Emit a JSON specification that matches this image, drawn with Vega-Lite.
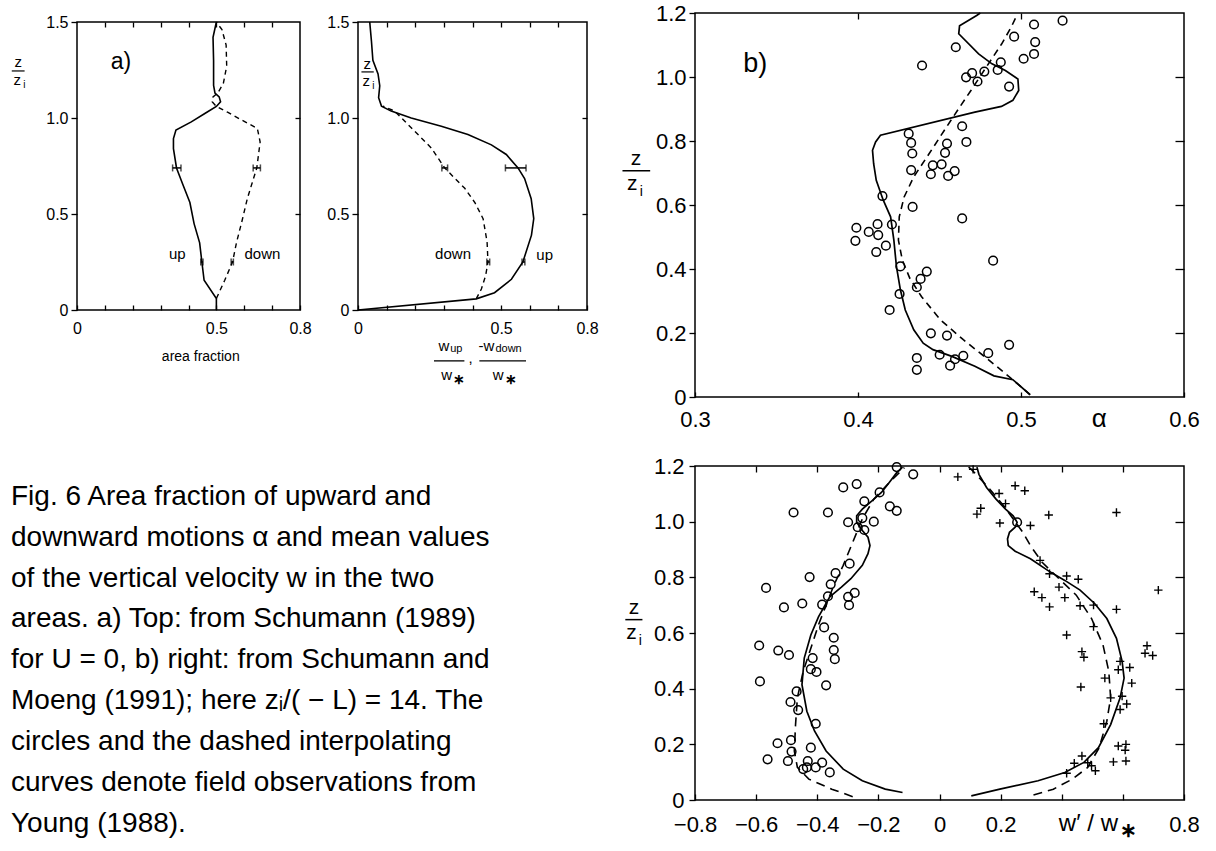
{
 "$schema": "https://vega.github.io/schema/vega-lite/v6.json",
 "background": "white",
 "padding": {"left": 10, "top": 1, "right": 5, "bottom": 5},
 "config": {
  "view": {"stroke": "black", "strokeWidth": 1.5},
  "axis": {"grid": false, "domain": false, "labelFont": "Liberation Sans", "labelColor": "black", "tickColor": "black", "tickWidth": 1.3, "labelFlush": false, "labelOverlap": false, "titleFont": "Liberation Sans", "titleFontWeight": "normal", "titleColor": "black"},
  "text": {"font": "Liberation Sans", "color": "black"},
  "line": {"color": "black", "strokeWidth": 1.6},
  "rule": {"color": "black"},
  "tick": {"color": "black"}
 },
 "datasets": {
  "one": [{}],
  "a1": [
   {"c":"up","x":0.5,"z":0},{"c":"up","x":0.5,"z":0.06},{"c":"up","x":0.456,"z":0.155},{"c":"up","x":0.448,"z":0.25},{"c":"up","x":0.44,"z":0.35},{"c":"up","x":0.42,"z":0.45},{"c":"up","x":0.405,"z":0.56},{"c":"up","x":0.379,"z":0.656},{"c":"up","x":0.357,"z":0.74},{"c":"up","x":0.346,"z":0.84},{"c":"up","x":0.346,"z":0.893},{"c":"up","x":0.355,"z":0.937},{"c":"up","x":0.41,"z":0.98},{"c":"up","x":0.46,"z":1.025},{"c":"up","x":0.5,"z":1.06},{"c":"up","x":0.515,"z":1.085},{"c":"up","x":0.51,"z":1.11},{"c":"up","x":0.495,"z":1.13},{"c":"up","x":0.49,"z":1.17},{"c":"up","x":0.49,"z":1.3},{"c":"up","x":0.488,"z":1.42},{"c":"up","x":0.5,"z":1.5},
   {"c":"down","x":0.5,"z":0.06},{"c":"down","x":0.53,"z":0.155},{"c":"down","x":0.558,"z":0.25},{"c":"down","x":0.572,"z":0.35},{"c":"down","x":0.593,"z":0.47},{"c":"down","x":0.611,"z":0.58},{"c":"down","x":0.628,"z":0.66},{"c":"down","x":0.645,"z":0.74},{"c":"down","x":0.657,"z":0.875},{"c":"down","x":0.647,"z":0.946},{"c":"down","x":0.59,"z":0.99},{"c":"down","x":0.54,"z":1.03},{"c":"down","x":0.5,"z":1.06},{"c":"down","x":0.485,"z":1.085},{"c":"down","x":0.488,"z":1.11},{"c":"down","x":0.505,"z":1.13},{"c":"down","x":0.525,"z":1.18},{"c":"down","x":0.537,"z":1.27},{"c":"down","x":0.535,"z":1.38},{"c":"down","x":0.52,"z":1.46},{"c":"down","x":0.5,"z":1.5}
  ],
  "a1err": [
   {"z":0.74,"lo":0.343,"hi":0.373},{"z":0.74,"lo":0.632,"hi":0.658},{"z":0.25,"lo":0.444,"hi":0.452},{"z":0.25,"lo":0.553,"hi":0.561}
  ],
  "a2": [
   {"c":"up","x":0,"z":0},{"c":"up","x":0.413,"z":0.058},{"c":"up","x":0.477,"z":0.09},{"c":"up","x":0.536,"z":0.16},{"c":"up","x":0.576,"z":0.25},{"c":"up","x":0.606,"z":0.39},{"c":"up","x":0.614,"z":0.476},{"c":"up","x":0.605,"z":0.58},{"c":"up","x":0.582,"z":0.685},{"c":"up","x":0.559,"z":0.74},{"c":"up","x":0.518,"z":0.81},{"c":"up","x":0.466,"z":0.86},{"c":"up","x":0.384,"z":0.914},{"c":"up","x":0.291,"z":0.957},{"c":"up","x":0.186,"z":1.0},{"c":"up","x":0.116,"z":1.036},{"c":"up","x":0.082,"z":1.062},{"c":"up","x":0.072,"z":1.106},{"c":"up","x":0.076,"z":1.168},{"c":"up","x":0.07,"z":1.23},{"c":"up","x":0.052,"z":1.3},{"c":"up","x":0.047,"z":1.4},{"c":"up","x":0.041,"z":1.5},
   {"c":"down","x":0.413,"z":0.058},{"c":"down","x":0.431,"z":0.109},{"c":"down","x":0.446,"z":0.18},{"c":"down","x":0.454,"z":0.25},{"c":"down","x":0.451,"z":0.354},{"c":"down","x":0.437,"z":0.476},{"c":"down","x":0.408,"z":0.56},{"c":"down","x":0.373,"z":0.634},{"c":"down","x":0.338,"z":0.686},{"c":"down","x":0.303,"z":0.74},{"c":"down","x":0.256,"z":0.844},{"c":"down","x":0.186,"z":0.949},{"c":"down","x":0.128,"z":1.036},{"c":"down","x":0.087,"z":1.062}
  ],
  "a2err": [
   {"z":0.74,"lo":0.293,"hi":0.313},{"z":0.74,"lo":0.515,"hi":0.587},{"z":0.25,"lo":0.45,"hi":0.46},{"z":0.25,"lo":0.573,"hi":0.583}
  ],
  "bt": [
   {"c":"les","x":0.5056,"z":0.007},{"c":"les","x":0.495,"z":0.054},{"c":"les","x":0.4834,"z":0.066},{"c":"les","x":0.4717,"z":0.096},{"c":"les","x":0.4576,"z":0.127},{"c":"les","x":0.446,"z":0.148},{"c":"les","x":0.44,"z":0.168},{"c":"les","x":0.4342,"z":0.21},{"c":"les","x":0.429,"z":0.272},{"c":"les","x":0.426,"z":0.335},{"c":"les","x":0.4236,"z":0.407},{"c":"les","x":0.422,"z":0.49},{"c":"les","x":0.42,"z":0.563},{"c":"les","x":0.4155,"z":0.615},{"c":"les","x":0.4112,"z":0.677},{"c":"les","x":0.4096,"z":0.729},{"c":"les","x":0.4089,"z":0.771},{"c":"les","x":0.4108,"z":0.797},{"c":"les","x":0.4138,"z":0.818},{"c":"les","x":0.4717,"z":0.89},{"c":"les","x":0.488,"z":0.908},{"c":"les","x":0.495,"z":0.927},{"c":"les","x":0.4986,"z":0.958},{"c":"les","x":0.4981,"z":0.994},{"c":"les","x":0.4904,"z":1.02},{"c":"les","x":0.4822,"z":1.041},{"c":"les","x":0.474,"z":1.072},{"c":"les","x":0.4618,"z":1.135},{"c":"les","x":0.4623,"z":1.16},{"c":"les","x":0.4728,"z":1.192},{"c":"les","x":0.475,"z":1.2},
   {"c":"obs","x":0.5056,"z":0.007},{"c":"obs","x":0.495,"z":0.054},{"c":"obs","x":0.4787,"z":0.122},{"c":"obs","x":0.4646,"z":0.179},{"c":"obs","x":0.4506,"z":0.241},{"c":"obs","x":0.4389,"z":0.314},{"c":"obs","x":0.4318,"z":0.371},{"c":"obs","x":0.4272,"z":0.428},{"c":"obs","x":0.4248,"z":0.49},{"c":"obs","x":0.4253,"z":0.563},{"c":"obs","x":0.4283,"z":0.625},{"c":"obs","x":0.4342,"z":0.688},{"c":"obs","x":0.4436,"z":0.76},{"c":"obs","x":0.4529,"z":0.833},{"c":"obs","x":0.4611,"z":0.896},{"c":"obs","x":0.4693,"z":0.958},{"c":"obs","x":0.4787,"z":1.031},{"c":"obs","x":0.4881,"z":1.103},{"c":"obs","x":0.4939,"z":1.155},{"c":"obs","x":0.4974,"z":1.192}
  ],
  "btobs": [
   {"x":0.5255,"z":1.176},{"x":0.508,"z":1.164},{"x":0.4958,"z":1.126},{"x":0.5087,"z":1.109},{"x":0.46,"z":1.093},{"x":0.508,"z":1.072},{"x":0.5016,"z":1.057},{"x":0.4393,"z":1.036},{"x":0.4876,"z":1.046},{"x":0.4857,"z":1.022},{"x":0.4775,"z":1.017},{"x":0.47,"z":1.012},{"x":0.4663,"z":0.999},{"x":0.4733,"z":0.986},{"x":0.4927,"z":0.97},{"x":0.4639,"z":0.846},{"x":0.4311,"z":0.823},{"x":0.4326,"z":0.794},{"x":0.4665,"z":0.797},{"x":0.4546,"z":0.792},{"x":0.4333,"z":0.761},{"x":0.4534,"z":0.763},{"x":0.4459,"z":0.724},{"x":0.4513,"z":0.727},{"x":0.4326,"z":0.709},{"x":0.4447,"z":0.696},{"x":0.4553,"z":0.691},{"x":0.4593,"z":0.706},{"x":0.415,"z":0.628},{"x":0.4335,"z":0.594},{"x":0.4639,"z":0.558},{"x":0.399,"z":0.529},{"x":0.412,"z":0.54},{"x":0.4066,"z":0.516},{"x":0.4124,"z":0.506},{"x":0.4208,"z":0.539},{"x":0.3984,"z":0.488},{"x":0.4171,"z":0.473},{"x":0.4112,"z":0.453},{"x":0.4829,"z":0.426},{"x":0.426,"z":0.408},{"x":0.4422,"z":0.392},{"x":0.4384,"z":0.369},{"x":0.4361,"z":0.343},{"x":0.4255,"z":0.322},{"x":0.4194,"z":0.272},{"x":0.4447,"z":0.199},{"x":0.4546,"z":0.192},{"x":0.4927,"z":0.163},{"x":0.4799,"z":0.137},{"x":0.4501,"z":0.132},{"x":0.4646,"z":0.129},{"x":0.4595,"z":0.118},{"x":0.4361,"z":0.122},{"x":0.4565,"z":0.098},{"x":0.4361,"z":0.085}
  ],
  "bb": [
   {"c":"lesL","x":-0.121,"z":0.027},{"c":"lesL","x":-0.1775,"z":0.039},{"c":"lesL","x":-0.2525,"z":0.069},{"c":"lesL","x":-0.315,"z":0.111},{"c":"lesL","x":-0.371,"z":0.176},{"c":"lesL","x":-0.409,"z":0.248},{"c":"lesL","x":-0.434,"z":0.319},{"c":"lesL","x":-0.45,"z":0.414},{"c":"lesL","x":-0.4425,"z":0.51},{"c":"lesL","x":-0.421,"z":0.593},{"c":"lesL","x":-0.396,"z":0.658},{"c":"lesL","x":-0.359,"z":0.73},{"c":"lesL","x":-0.321,"z":0.765},{"c":"lesL","x":-0.29,"z":0.795},{"c":"lesL","x":-0.2525,"z":0.843},{"c":"lesL","x":-0.234,"z":0.885},{"c":"lesL","x":-0.2275,"z":0.914},{"c":"lesL","x":-0.234,"z":0.944},{"c":"lesL","x":-0.2525,"z":0.968},{"c":"lesL","x":-0.271,"z":0.998},{"c":"lesL","x":-0.271,"z":1.021},{"c":"lesL","x":-0.2525,"z":1.045},{"c":"lesL","x":-0.221,"z":1.075},{"c":"lesL","x":-0.19,"z":1.105},{"c":"lesL","x":-0.165,"z":1.14},{"c":"lesL","x":-0.14,"z":1.176},{"c":"lesL","x":-0.121,"z":1.196},
   {"c":"obsL","x":-0.284,"z":0.012},{"c":"obsL","x":-0.3525,"z":0.039},{"c":"obsL","x":-0.4275,"z":0.075},{"c":"obsL","x":-0.465,"z":0.117},{"c":"obsL","x":-0.475,"z":0.176},{"c":"obsL","x":-0.471,"z":0.271},{"c":"obsL","x":-0.465,"z":0.367},{"c":"obsL","x":-0.446,"z":0.462},{"c":"obsL","x":-0.421,"z":0.545},{"c":"obsL","x":-0.396,"z":0.629},{"c":"obsL","x":-0.371,"z":0.7},{"c":"obsL","x":-0.346,"z":0.771},{"c":"obsL","x":-0.315,"z":0.843},{"c":"obsL","x":-0.284,"z":0.926},{"c":"obsL","x":-0.2525,"z":1.01},{"c":"obsL","x":-0.215,"z":1.081},{"c":"obsL","x":-0.165,"z":1.14},{"c":"obsL","x":-0.115,"z":1.194},
   {"c":"lesR","x":0.104,"z":0.015},{"c":"lesR","x":0.1975,"z":0.039},{"c":"lesR","x":0.3225,"z":0.069},{"c":"lesR","x":0.41,"z":0.099},{"c":"lesR","x":0.4725,"z":0.135},{"c":"lesR","x":0.52,"z":0.188},{"c":"lesR","x":0.56,"z":0.271},{"c":"lesR","x":0.591,"z":0.367},{"c":"lesR","x":0.604,"z":0.438},{"c":"lesR","x":0.5975,"z":0.498},{"c":"lesR","x":0.579,"z":0.581},{"c":"lesR","x":0.5475,"z":0.652},{"c":"lesR","x":0.5075,"z":0.706},{"c":"lesR","x":0.46,"z":0.754},{"c":"lesR","x":0.41,"z":0.789},{"c":"lesR","x":0.354,"z":0.825},{"c":"lesR","x":0.2975,"z":0.867},{"c":"lesR","x":0.2475,"z":0.894},{"c":"lesR","x":0.225,"z":0.914},{"c":"lesR","x":0.2225,"z":0.938},{"c":"lesR","x":0.229,"z":0.962},{"c":"lesR","x":0.2475,"z":0.98},{"c":"lesR","x":0.254,"z":0.998},{"c":"lesR","x":0.241,"z":1.021},{"c":"lesR","x":0.216,"z":1.045},{"c":"lesR","x":0.185,"z":1.081},{"c":"lesR","x":0.154,"z":1.123},{"c":"lesR","x":0.129,"z":1.17},{"c":"lesR","x":0.1225,"z":1.196},
   {"c":"obsR","x":0.3075,"z":0.018},{"c":"obsR","x":0.3725,"z":0.039},{"c":"obsR","x":0.435,"z":0.075},{"c":"obsR","x":0.485,"z":0.117},{"c":"obsR","x":0.5225,"z":0.188},{"c":"obsR","x":0.5475,"z":0.283},{"c":"obsR","x":0.56,"z":0.367},{"c":"obsR","x":0.554,"z":0.462},{"c":"obsR","x":0.535,"z":0.557},{"c":"obsR","x":0.4975,"z":0.652},{"c":"obsR","x":0.4475,"z":0.736},{"c":"obsR","x":0.391,"z":0.795},{"c":"obsR","x":0.335,"z":0.855},{"c":"obsR","x":0.2975,"z":0.914},{"c":"obsR","x":0.2725,"z":0.962},{"c":"obsR","x":0.254,"z":0.99},{"c":"obsR","x":0.21,"z":1.057},{"c":"obsR","x":0.16,"z":1.123},{"c":"obsR","x":0.104,"z":1.188},{"c":"obsR","x":0.091,"z":1.2}
  ],
  "bbobs": [
   {"k":"o","x":-0.14,"z":1.196},{"k":"o","x":-0.086,"z":1.17},{"k":"o","x":-0.315,"z":1.123},{"k":"o","x":-0.271,"z":1.135},{"k":"o","x":-0.196,"z":1.105},{"k":"o","x":-0.246,"z":1.073},{"k":"o","x":-0.1625,"z":1.055},{"k":"o","x":-0.14,"z":1.039},{"k":"o","x":-0.4775,"z":1.033},{"k":"o","x":-0.365,"z":1.033},{"k":"o","x":-0.2525,"z":1.013},{"k":"o","x":-0.299,"z":0.998},{"k":"o","x":-0.215,"z":1.0},{"k":"o","x":-0.2675,"z":0.98},{"k":"o","x":-0.246,"z":0.97},{"k":"o","x":-0.294,"z":0.849},{"k":"o","x":-0.34,"z":0.815},{"k":"o","x":-0.425,"z":0.801},{"k":"o","x":-0.356,"z":0.775},{"k":"o","x":-0.5675,"z":0.762},{"k":"o","x":-0.365,"z":0.732},{"k":"o","x":-0.2775,"z":0.744},{"k":"o","x":-0.299,"z":0.73},{"k":"o","x":-0.449,"z":0.706},{"k":"o","x":-0.384,"z":0.702},{"k":"o","x":-0.296,"z":0.7},{"k":"o","x":-0.509,"z":0.692},{"k":"o","x":-0.3775,"z":0.62},{"k":"o","x":-0.346,"z":0.583},{"k":"o","x":-0.59,"z":0.555},{"k":"o","x":-0.5275,"z":0.537},{"k":"o","x":-0.4925,"z":0.521},{"k":"o","x":-0.346,"z":0.539},{"k":"o","x":-0.3425,"z":0.506},{"k":"o","x":-0.415,"z":0.51},{"k":"o","x":-0.421,"z":0.47},{"k":"o","x":-0.4025,"z":0.46},{"k":"o","x":-0.5875,"z":0.426},{"k":"o","x":-0.371,"z":0.412},{"k":"o","x":-0.4675,"z":0.39},{"k":"o","x":-0.4875,"z":0.352},{"k":"o","x":-0.4625,"z":0.323},{"k":"o","x":-0.405,"z":0.274},{"k":"o","x":-0.53,"z":0.204},{"k":"o","x":-0.486,"z":0.215},{"k":"o","x":-0.421,"z":0.188},{"k":"o","x":-0.484,"z":0.174},{"k":"o","x":-0.5625,"z":0.146},{"k":"o","x":-0.496,"z":0.14},{"k":"o","x":-0.431,"z":0.14},{"k":"o","x":-0.384,"z":0.134},{"k":"o","x":-0.434,"z":0.117},{"k":"o","x":-0.405,"z":0.117},{"k":"o","x":-0.359,"z":0.099},{"k":"o","x":-0.446,"z":0.111},{"k":"o","x":0.254,"z":0.998},
   {"k":"+","x":0.06,"z":1.161},{"k":"+","x":0.11,"z":1.188},{"k":"+","x":0.195,"z":1.101},{"k":"+","x":0.2475,"z":1.129},{"k":"+","x":0.279,"z":1.111},{"k":"+","x":0.216,"z":1.065},{"k":"+","x":0.1225,"z":1.027},{"k":"+","x":0.135,"z":1.048},{"k":"+","x":0.1975,"z":0.995},{"k":"+","x":0.2975,"z":0.986},{"k":"+","x":0.3575,"z":1.024},{"k":"+","x":0.579,"z":1.033},{"k":"+","x":0.329,"z":0.861},{"k":"+","x":0.36,"z":0.813},{"k":"+","x":0.416,"z":0.805},{"k":"+","x":0.454,"z":0.793},{"k":"+","x":0.391,"z":0.765},{"k":"+","x":0.31,"z":0.748},{"k":"+","x":0.335,"z":0.727},{"k":"+","x":0.36,"z":0.694},{"k":"+","x":0.41,"z":0.727},{"k":"+","x":0.46,"z":0.698},{"k":"+","x":0.504,"z":0.7},{"k":"+","x":0.579,"z":0.685},{"k":"+","x":0.716,"z":0.754},{"k":"+","x":0.504,"z":0.623},{"k":"+","x":0.416,"z":0.593},{"k":"+","x":0.679,"z":0.554},{"k":"+","x":0.6725,"z":0.527},{"k":"+","x":0.6975,"z":0.519},{"k":"+","x":0.466,"z":0.533},{"k":"+","x":0.4725,"z":0.513},{"k":"+","x":0.591,"z":0.498},{"k":"+","x":0.6225,"z":0.476},{"k":"+","x":0.585,"z":0.468},{"k":"+","x":0.541,"z":0.438},{"k":"+","x":0.629,"z":0.42},{"k":"+","x":0.4625,"z":0.406},{"k":"+","x":0.56,"z":0.367},{"k":"+","x":0.5975,"z":0.373},{"k":"+","x":0.6125,"z":0.345},{"k":"+","x":0.591,"z":0.325},{"k":"+","x":0.5375,"z":0.274},{"k":"+","x":0.585,"z":0.194},{"k":"+","x":0.61,"z":0.2},{"k":"+","x":0.6075,"z":0.179},{"k":"+","x":0.569,"z":0.137},{"k":"+","x":0.61,"z":0.14},{"k":"+","x":0.441,"z":0.132},{"k":"+","x":0.485,"z":0.134},{"k":"+","x":0.51,"z":0.105},{"k":"+","x":0.416,"z":0.096},{"k":"+","x":0.4975,"z":0.123},{"k":"+","x":0.466,"z":0.158}
  ],
  "caption": [
   {"n":1,"t":"Fig. 6 Area fraction of upward and"},
   {"n":2,"t":"downward motions α and mean values"},
   {"n":3,"t":"of the vertical velocity w in the two"},
   {"n":4,"t":"areas. a) Top: from Schumann (1989)"},
   {"n":5,"t":"for U = 0, b) right: from Schumann and"},
   {"n":6,"t":"Moeng (1991); here zᵢ/( − L) = 14. The"},
   {"n":7,"t":"circles and the dashed interpolating"},
   {"n":8,"t":"curves denote field observations from"},
   {"n":9,"t":"Young (1988)."}
  ]
 },
 "spacing": 684,
 "bounds": "flush",
 "hconcat": [
  {
   "spacing": 8,
   "bounds": "flush",
   "vconcat": [
    {"width": 1, "height": 1, "view": {"stroke": null}, "data": {"values": []}, "mark": "point"},
    {
     "spacing": 58,
     "bounds": "flush",
     "hconcat": [
      {"width": 8, "height": 1, "view": {"stroke": null}, "data": {"values": []}, "mark": "point"},
      {
       "width": 223, "height": 288,
       "resolve": {"axis": {"x": "independent", "y": "independent"}},
       "layer": [
        {"data": {"name": "a1"}, "transform": [{"filter": "datum.c == 'up'"}],
         "mark": {"type": "line", "strokeWidth": 1.6},
         "encoding": {
          "x": {"field": "x", "type": "quantitative", "scale": {"domain": [0, 0.8], "nice": false, "zero": false},
                "axis": {"orient": "bottom", "values": [0, 0.1, 0.2, 0.3, 0.4, 0.5, 0.6, 0.7, 0.8], "tickSize": -5, "labelPadding": 15, "labelFontSize": 16, "labelExpr": "datum.value == 0 ? '0' : datum.value == 0.5 ? '0.5' : datum.value == 0.8 ? '0.8' : ''", "title": null}},
          "y": {"field": "z", "type": "quantitative", "scale": {"domain": [0, 1.5], "nice": false, "zero": false},
                "axis": {"orient": "left", "values": [0, 0.5, 1, 1.5], "tickSize": 6, "labelPadding": 3, "labelFontSize": 16, "labelExpr": "datum.value == 0 ? '0' : format(datum.value, '.1f')", "title": null}},
          "order": {"value": null}
         }},
        {"data": {"name": "a1"}, "transform": [{"filter": "datum.c == 'down'"}],
         "mark": {"type": "line", "strokeWidth": 1.4, "strokeDash": [5, 4]},
         "encoding": {
          "x": {"field": "x", "type": "quantitative", "axis": {"orient": "top", "values": [0.1, 0.2, 0.3, 0.4, 0.5, 0.6, 0.7], "tickSize": -5, "labels": false, "title": null}},
          "y": {"field": "z", "type": "quantitative", "axis": {"orient": "right", "values": [0.5, 1], "tickSize": -5, "labels": false, "title": null}},
          "order": {"value": null}
         }},
        {"data": {"name": "a1err"}, "mark": {"type": "rule", "strokeWidth": 1.5},
         "encoding": {"x": {"field": "lo", "type": "quantitative", "axis": null}, "x2": {"field": "hi"}, "y": {"field": "z", "type": "quantitative", "axis": null}}},
        {"data": {"name": "a1err"}, "mark": {"type": "tick", "orient": "vertical", "size": 7, "thickness": 1.5},
         "encoding": {"x": {"field": "lo", "type": "quantitative", "axis": null}, "y": {"field": "z", "type": "quantitative", "axis": null}}},
        {"data": {"name": "a1err"}, "mark": {"type": "tick", "orient": "vertical", "size": 7, "thickness": 1.5},
         "encoding": {"x": {"field": "hi", "type": "quantitative", "axis": null}, "y": {"field": "z", "type": "quantitative", "axis": null}}},
        {"data": {"name": "one"}, "mark": {"type": "text", "fontSize": 23, "align": "center", "baseline": "middle"},
         "encoding": {"x": {"datum": 0.158, "type": "quantitative", "axis": null}, "y": {"datum": 1.29, "type": "quantitative", "axis": null}, "text": {"value": "a)"}}},
        {"data": {"name": "one"}, "mark": {"type": "text", "fontSize": 15, "align": "center", "baseline": "middle"},
         "encoding": {"x": {"datum": 0.36, "type": "quantitative", "axis": null}, "y": {"datum": 0.29, "type": "quantitative", "axis": null}, "text": {"value": "up"}}},
        {"data": {"name": "one"}, "mark": {"type": "text", "fontSize": 15, "align": "center", "baseline": "middle"},
         "encoding": {"x": {"datum": 0.665, "type": "quantitative", "axis": null}, "y": {"datum": 0.29, "type": "quantitative", "axis": null}, "text": {"value": "down"}}},
        {"data": {"name": "one"}, "mark": {"type": "text", "fontSize": 14, "align": "center", "baseline": "middle"},
         "encoding": {"x": {"datum": 0.444, "type": "quantitative", "axis": null}, "y": {"datum": -0.245, "type": "quantitative", "axis": null}, "text": {"value": "area  fraction"}}},
        {"data": {"name": "one"}, "mark": {"type": "text", "fontSize": 15, "align": "center", "baseline": "middle"},
         "encoding": {"x": {"datum": -0.211, "type": "quantitative", "axis": null}, "y": {"datum": 1.29, "type": "quantitative", "axis": null}, "text": {"value": "z"}}},
        {"data": {"name": "one"}, "mark": {"type": "rule", "strokeWidth": 1.2},
         "encoding": {"x": {"datum": -0.234, "type": "quantitative", "axis": null}, "x2": {"datum": -0.188}, "y": {"datum": 1.245, "type": "quantitative", "axis": null}}},
        {"data": {"name": "one"}, "mark": {"type": "text", "fontSize": 15, "align": "center", "baseline": "middle"},
         "encoding": {"x": {"datum": -0.214, "type": "quantitative", "axis": null}, "y": {"datum": 1.2, "type": "quantitative", "axis": null}, "text": {"value": "z"}}},
        {"data": {"name": "one"}, "mark": {"type": "text", "fontSize": 10, "align": "center", "baseline": "middle", "dx": 7, "dy": 5},
         "encoding": {"x": {"datum": -0.214, "type": "quantitative", "axis": null}, "y": {"datum": 1.2, "type": "quantitative", "axis": null}, "text": {"value": "i"}}}
       ]
      },
      {
       "width": 229, "height": 288,
       "resolve": {"axis": {"x": "independent", "y": "independent"}},
       "layer": [
        {"data": {"name": "a2"}, "transform": [{"filter": "datum.c == 'up'"}],
         "mark": {"type": "line", "strokeWidth": 1.6},
         "encoding": {
          "x": {"field": "x", "type": "quantitative", "scale": {"domain": [0, 0.8], "nice": false, "zero": false},
                "axis": {"orient": "bottom", "values": [0, 0.1, 0.2, 0.3, 0.4, 0.5, 0.6, 0.7, 0.8], "tickSize": -5, "labelPadding": 15, "labelFontSize": 16, "labelExpr": "datum.value == 0 ? '0' : datum.value == 0.5 ? '0.5' : datum.value == 0.8 ? '0.8' : ''", "title": null}},
          "y": {"field": "z", "type": "quantitative", "scale": {"domain": [0, 1.5], "nice": false, "zero": false},
                "axis": {"orient": "left", "values": [0, 0.5, 1, 1.5], "tickSize": 6, "labelPadding": 3, "labelFontSize": 16, "labelExpr": "datum.value == 0 ? '0' : format(datum.value, '.1f')", "title": null}},
          "order": {"value": null}
         }},
        {"data": {"name": "a2"}, "transform": [{"filter": "datum.c == 'down'"}],
         "mark": {"type": "line", "strokeWidth": 1.4, "strokeDash": [5, 4]},
         "encoding": {
          "x": {"field": "x", "type": "quantitative", "axis": {"orient": "top", "values": [0.1, 0.2, 0.3, 0.4, 0.5, 0.6, 0.7], "tickSize": -5, "labels": false, "title": null}},
          "y": {"field": "z", "type": "quantitative", "axis": {"orient": "right", "values": [0.5, 1], "tickSize": -5, "labels": false, "title": null}},
          "order": {"value": null}
         }},
        {"data": {"name": "a2err"}, "mark": {"type": "rule", "strokeWidth": 1.5},
         "encoding": {"x": {"field": "lo", "type": "quantitative", "axis": null}, "x2": {"field": "hi"}, "y": {"field": "z", "type": "quantitative", "axis": null}}},
        {"data": {"name": "a2err"}, "mark": {"type": "tick", "orient": "vertical", "size": 7, "thickness": 1.5},
         "encoding": {"x": {"field": "lo", "type": "quantitative", "axis": null}, "y": {"field": "z", "type": "quantitative", "axis": null}}},
        {"data": {"name": "a2err"}, "mark": {"type": "tick", "orient": "vertical", "size": 7, "thickness": 1.5},
         "encoding": {"x": {"field": "hi", "type": "quantitative", "axis": null}, "y": {"field": "z", "type": "quantitative", "axis": null}}},
        {"data": {"name": "one"}, "mark": {"type": "text", "fontSize": 15, "align": "center", "baseline": "middle"},
         "encoding": {"x": {"datum": 0.332, "type": "quantitative", "axis": null}, "y": {"datum": 0.29, "type": "quantitative", "axis": null}, "text": {"value": "down"}}},
        {"data": {"name": "one"}, "mark": {"type": "text", "fontSize": 15, "align": "center", "baseline": "middle"},
         "encoding": {"x": {"datum": 0.652, "type": "quantitative", "axis": null}, "y": {"datum": 0.285, "type": "quantitative", "axis": null}, "text": {"value": "up"}}},
        {"data": {"name": "one"}, "mark": {"type": "text", "fontSize": 15, "align": "center", "baseline": "middle"},
         "encoding": {"x": {"datum": 0.032, "type": "quantitative", "axis": null}, "y": {"datum": 1.28, "type": "quantitative", "axis": null}, "text": {"value": "z"}}},
        {"data": {"name": "one"}, "mark": {"type": "rule", "strokeWidth": 1.2},
         "encoding": {"x": {"datum": 0.012, "type": "quantitative", "axis": null}, "x2": {"datum": 0.055}, "y": {"datum": 1.24, "type": "quantitative", "axis": null}}},
        {"data": {"name": "one"}, "mark": {"type": "text", "fontSize": 15, "align": "center", "baseline": "middle"},
         "encoding": {"x": {"datum": 0.029, "type": "quantitative", "axis": null}, "y": {"datum": 1.195, "type": "quantitative", "axis": null}, "text": {"value": "z"}}},
        {"data": {"name": "one"}, "mark": {"type": "text", "fontSize": 10, "align": "center", "baseline": "middle", "dx": 7, "dy": 5},
         "encoding": {"x": {"datum": 0.029, "type": "quantitative", "axis": null}, "y": {"datum": 1.195, "type": "quantitative", "axis": null}, "text": {"value": "i"}}},
        {"data": {"name": "one"}, "mark": {"type": "text", "fontSize": 15, "align": "center", "baseline": "middle"},
         "encoding": {"x": {"datum": 0.3, "type": "quantitative", "axis": null}, "y": {"datum": -0.187, "type": "quantitative", "axis": null}, "text": {"value": "w"}}},
        {"data": {"name": "one"}, "mark": {"type": "text", "fontSize": 11, "align": "left", "baseline": "middle", "dy": 3},
         "encoding": {"x": {"datum": 0.322, "type": "quantitative", "axis": null}, "y": {"datum": -0.187, "type": "quantitative", "axis": null}, "text": {"value": "up"}}},
        {"data": {"name": "one"}, "mark": {"type": "rule", "strokeWidth": 1.3},
         "encoding": {"x": {"datum": 0.2655, "type": "quantitative", "axis": null}, "x2": {"datum": 0.3717}, "y": {"datum": -0.265, "type": "quantitative", "axis": null}}},
        {"data": {"name": "one"}, "mark": {"type": "text", "fontSize": 15, "align": "center", "baseline": "middle"},
         "encoding": {"x": {"datum": 0.31, "type": "quantitative", "axis": null}, "y": {"datum": -0.34, "type": "quantitative", "axis": null}, "text": {"value": "w"}}},
        {"data": {"name": "one"}, "mark": {"type": "text", "fontSize": 14, "fontWeight": "bold", "align": "left", "baseline": "middle", "dy": 5},
         "encoding": {"x": {"datum": 0.332, "type": "quantitative", "axis": null}, "y": {"datum": -0.34, "type": "quantitative", "axis": null}, "text": {"value": "∗"}}},
        {"data": {"name": "one"}, "mark": {"type": "text", "fontSize": 15, "align": "center", "baseline": "middle"},
         "encoding": {"x": {"datum": 0.393, "type": "quantitative", "axis": null}, "y": {"datum": -0.25, "type": "quantitative", "axis": null}, "text": {"value": ","}}},
        {"data": {"name": "one"}, "mark": {"type": "text", "fontSize": 15, "align": "right", "baseline": "middle"},
         "encoding": {"x": {"datum": 0.476, "type": "quantitative", "axis": null}, "y": {"datum": -0.187, "type": "quantitative", "axis": null}, "text": {"value": "-w"}}},
        {"data": {"name": "one"}, "mark": {"type": "text", "fontSize": 11, "align": "left", "baseline": "middle", "dy": 3},
         "encoding": {"x": {"datum": 0.48, "type": "quantitative", "axis": null}, "y": {"datum": -0.187, "type": "quantitative", "axis": null}, "text": {"value": "down"}}},
        {"data": {"name": "one"}, "mark": {"type": "rule", "strokeWidth": 1.3},
         "encoding": {"x": {"datum": 0.424, "type": "quantitative", "axis": null}, "x2": {"datum": 0.587}, "y": {"datum": -0.265, "type": "quantitative", "axis": null}}},
        {"data": {"name": "one"}, "mark": {"type": "text", "fontSize": 15, "align": "center", "baseline": "middle"},
         "encoding": {"x": {"datum": 0.49, "type": "quantitative", "axis": null}, "y": {"datum": -0.34, "type": "quantitative", "axis": null}, "text": {"value": "w"}}},
        {"data": {"name": "one"}, "mark": {"type": "text", "fontSize": 14, "fontWeight": "bold", "align": "left", "baseline": "middle", "dy": 5},
         "encoding": {"x": {"datum": 0.512, "type": "quantitative", "axis": null}, "y": {"datum": -0.34, "type": "quantitative", "axis": null}, "text": {"value": "∗"}}}
       ]
      }
     ]
    },
    {
     "width": 520, "height": 800,
     "view": {"stroke": null},
     "data": {"name": "caption"},
     "mark": {"type": "text", "align": "left", "baseline": "middle", "fontSize": 28, "font": "Liberation Sans"},
     "encoding": {
      "x": {"datum": 0, "type": "quantitative", "scale": {"domain": [0, 1], "nice": false, "zero": false}, "axis": null},
      "y": {"field": "n", "type": "quantitative", "scale": {"domain": [-10.42, 9.152], "reverse": true, "nice": false, "zero": false}, "axis": null},
      "text": {"field": "t"}
     }
    }
   ]
  },
  {
   "spacing": 69,
   "bounds": "flush",
   "vconcat": [
    {
     "width": 489, "height": 384,
     "resolve": {"axis": {"x": "independent", "y": "independent"}},
     "layer": [
      {"data": {"name": "bt"}, "transform": [{"filter": "datum.c == 'les'"}],
       "mark": {"type": "line", "strokeWidth": 1.7},
       "encoding": {
        "x": {"field": "x", "type": "quantitative", "scale": {"domain": [0.3, 0.6], "nice": false, "zero": false},
              "axis": {"orient": "bottom", "values": [0.3, 0.4, 0.5, 0.6], "tickSize": -5, "labelPadding": 17, "labelFontSize": 22, "format": ".1f", "title": null}},
        "y": {"field": "z", "type": "quantitative", "scale": {"domain": [0, 1.2], "nice": false, "zero": false},
              "axis": {"orient": "left", "values": [0, 0.2, 0.4, 0.6, 0.8, 1, 1.2], "tickSize": 6, "labelPadding": 3, "labelFontSize": 22, "labelExpr": "datum.value == 0 ? '0' : format(datum.value, '.1f')", "title": null}},
        "order": {"value": null}
       }},
      {"data": {"name": "bt"}, "transform": [{"filter": "datum.c == 'obs'"}],
       "mark": {"type": "line", "strokeWidth": 1.6, "strokeDash": [7, 5]},
       "encoding": {
        "x": {"field": "x", "type": "quantitative", "axis": {"orient": "top", "values": [0.4, 0.5], "tickSize": -6, "labels": false, "title": null}},
        "y": {"field": "z", "type": "quantitative", "axis": {"orient": "right", "values": [0.2, 0.4, 0.6, 0.8, 1], "tickSize": -9, "labels": false, "title": null}},
        "order": {"value": null}
       }},
      {"data": {"name": "btobs"}, "mark": {"type": "point", "shape": "circle", "filled": false, "color": "black", "strokeWidth": 1.5, "size": 75, "opacity": 1},
       "encoding": {"x": {"field": "x", "type": "quantitative", "axis": null}, "y": {"field": "z", "type": "quantitative", "axis": null}}},
      {"data": {"name": "one"}, "mark": {"type": "text", "fontSize": 27, "align": "center", "baseline": "middle"},
       "encoding": {"x": {"datum": 0.337, "type": "quantitative", "axis": null}, "y": {"datum": 1.04, "type": "quantitative", "axis": null}, "text": {"value": "b)"}}},
      {"data": {"name": "one"}, "mark": {"type": "text", "fontSize": 26, "align": "center", "baseline": "middle"},
       "encoding": {"x": {"datum": 0.548, "type": "quantitative", "axis": null}, "y": {"datum": -0.068, "type": "quantitative", "axis": null}, "text": {"value": "α"}}},
      {"data": {"name": "one"}, "mark": {"type": "text", "fontSize": 21, "align": "center", "baseline": "middle"},
       "encoding": {"x": {"datum": 0.2638, "type": "quantitative", "axis": null}, "y": {"datum": 0.745, "type": "quantitative", "axis": null}, "text": {"value": "z"}}},
      {"data": {"name": "one"}, "mark": {"type": "rule", "strokeWidth": 1.5},
       "encoding": {"x": {"datum": 0.2555, "type": "quantitative", "axis": null}, "x2": {"datum": 0.2725}, "y": {"datum": 0.707, "type": "quantitative", "axis": null}}},
      {"data": {"name": "one"}, "mark": {"type": "text", "fontSize": 21, "align": "center", "baseline": "middle"},
       "encoding": {"x": {"datum": 0.2615, "type": "quantitative", "axis": null}, "y": {"datum": 0.665, "type": "quantitative", "axis": null}, "text": {"value": "z"}}},
      {"data": {"name": "one"}, "mark": {"type": "text", "fontSize": 14, "align": "center", "baseline": "middle", "dx": 9, "dy": 8},
       "encoding": {"x": {"datum": 0.2615, "type": "quantitative", "axis": null}, "y": {"datum": 0.665, "type": "quantitative", "axis": null}, "text": {"value": "i"}}}
     ]
    },
    {
     "width": 489, "height": 334,
     "resolve": {"axis": {"x": "independent", "y": "independent"}},
     "layer": [
      {"data": {"name": "bb"}, "transform": [{"filter": "datum.c == 'lesL' || datum.c == 'lesR'"}],
       "mark": {"type": "line", "strokeWidth": 1.7},
       "encoding": {
        "x": {"field": "x", "type": "quantitative", "scale": {"domain": [-0.8, 0.8], "nice": false, "zero": false},
              "axis": {"orient": "bottom", "values": [-0.8, -0.6, -0.4, -0.2, 0, 0.2, 0.4, 0.6, 0.8], "tickSize": -6, "labelPadding": 20, "labelFontSize": 22, "labelExpr": "datum.value < -0.01 ? '−' + format(-datum.value, '.1f') : abs(datum.value) < 0.01 ? '0' : (abs(datum.value - 0.2) < 0.01 || abs(datum.value - 0.8) < 0.01) ? format(datum.value, '.1f') : ''", "title": null}},
        "y": {"field": "z", "type": "quantitative", "scale": {"domain": [0, 1.2], "nice": false, "zero": false},
              "axis": {"orient": "left", "values": [0, 0.2, 0.4, 0.6, 0.8, 1, 1.2], "tickSize": 6, "labelPadding": 5, "labelFontSize": 22, "labelExpr": "datum.value == 0 ? '0' : format(datum.value, '.1f')", "title": null}},
        "detail": {"field": "c"},
        "order": {"value": null}
       }},
      {"data": {"name": "bb"}, "transform": [{"filter": "datum.c == 'obsL' || datum.c == 'obsR'"}],
       "mark": {"type": "line", "strokeWidth": 1.6, "strokeDash": [9, 6]},
       "encoding": {
        "x": {"field": "x", "type": "quantitative", "axis": {"orient": "top", "values": [-0.6, -0.4, -0.2, 0, 0.2, 0.4, 0.6], "tickSize": -6, "labels": false, "title": null}},
        "y": {"field": "z", "type": "quantitative", "axis": {"orient": "right", "values": [0.2, 0.4, 0.6, 0.8, 1], "tickSize": -9, "labels": false, "title": null}},
        "detail": {"field": "c"},
        "order": {"value": null}
       }},
      {"data": {"name": "bbobs"}, "transform": [{"filter": "datum.k == 'o'"}],
       "mark": {"type": "point", "shape": "circle", "filled": false, "color": "black", "strokeWidth": 1.5, "size": 75, "opacity": 1},
       "encoding": {"x": {"field": "x", "type": "quantitative", "axis": null}, "y": {"field": "z", "type": "quantitative", "axis": null}}},
      {"data": {"name": "bbobs"}, "transform": [{"filter": "datum.k == '+'"}],
       "mark": {"type": "point", "shape": "M-1,0L1,0M0,-1L0,1", "filled": false, "color": "black", "strokeWidth": 1.4, "size": 70, "opacity": 1},
       "encoding": {"x": {"field": "x", "type": "quantitative", "axis": null}, "y": {"field": "z", "type": "quantitative", "axis": null}}},
      {"data": {"name": "one"}, "mark": {"type": "text", "fontSize": 24, "align": "right", "baseline": "middle"},
       "encoding": {"x": {"datum": 0.584, "type": "quantitative", "axis": null}, "y": {"datum": -0.088, "type": "quantitative", "axis": null}, "text": {"value": "w′ / w"}}},
      {"data": {"name": "one"}, "mark": {"type": "text", "fontSize": 20, "fontWeight": "bold", "align": "left", "baseline": "middle", "dy": 7},
       "encoding": {"x": {"datum": 0.59, "type": "quantitative", "axis": null}, "y": {"datum": -0.088, "type": "quantitative", "axis": null}, "text": {"value": "∗"}}},
      {"data": {"name": "one"}, "mark": {"type": "text", "fontSize": 21, "align": "center", "baseline": "middle"},
       "encoding": {"x": {"datum": -1.0, "type": "quantitative", "axis": null}, "y": {"datum": 0.69, "type": "quantitative", "axis": null}, "text": {"value": "z"}}},
      {"data": {"name": "one"}, "mark": {"type": "rule", "strokeWidth": 1.5},
       "encoding": {"x": {"datum": -1.028, "type": "quantitative", "axis": null}, "x2": {"datum": -0.972}, "y": {"datum": 0.648, "type": "quantitative", "axis": null}}},
      {"data": {"name": "one"}, "mark": {"type": "text", "fontSize": 21, "align": "center", "baseline": "middle"},
       "encoding": {"x": {"datum": -1.008, "type": "quantitative", "axis": null}, "y": {"datum": 0.6, "type": "quantitative", "axis": null}, "text": {"value": "z"}}},
      {"data": {"name": "one"}, "mark": {"type": "text", "fontSize": 14, "align": "center", "baseline": "middle", "dx": 9, "dy": 8},
       "encoding": {"x": {"datum": -1.008, "type": "quantitative", "axis": null}, "y": {"datum": 0.6, "type": "quantitative", "axis": null}, "text": {"value": "i"}}}
     ]
    }
   ]
  }
 ]
}
